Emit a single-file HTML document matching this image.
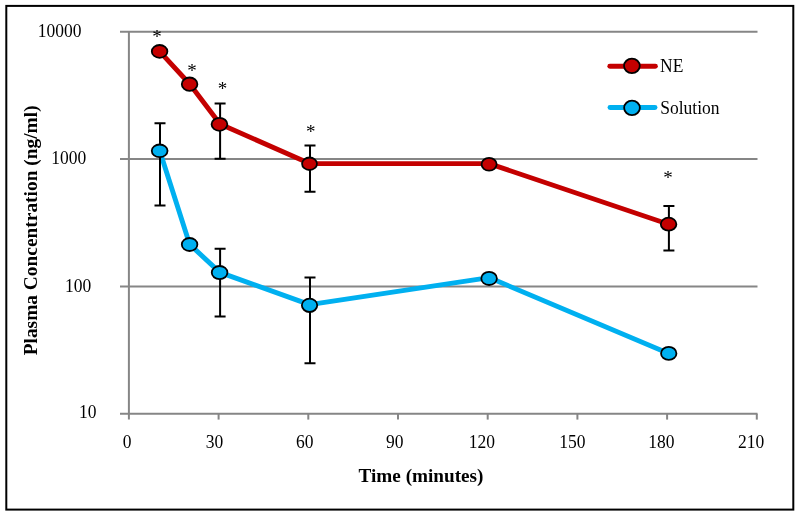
<!DOCTYPE html><html><head><meta charset="utf-8"><style>html,body{margin:0;padding:0;background:#fff;}svg{display:block;will-change:transform;}text{font-family:"Liberation Serif",serif;fill:#000;}</style></head><body>
<svg width="800" height="516" viewBox="0 0 800 516">
<rect x="0" y="0" width="800" height="516" fill="#fff"/>
<rect x="6.3" y="5.9" width="787.0" height="503.7" fill="none" stroke="#000" stroke-width="2"/>
<line x1="120" y1="31.8" x2="757.5" y2="31.8" stroke="#868686" stroke-width="2"/>
<line x1="120" y1="159.0" x2="757.5" y2="159.0" stroke="#868686" stroke-width="2"/>
<line x1="120" y1="286.4" x2="757.5" y2="286.4" stroke="#868686" stroke-width="2"/>
<line x1="120" y1="413.8" x2="757.5" y2="413.8" stroke="#868686" stroke-width="2"/>
<line x1="128.9" y1="31.8" x2="128.9" y2="419.6" stroke="#868686" stroke-width="2"/>
<line x1="218.6" y1="413.8" x2="218.6" y2="419.6" stroke="#868686" stroke-width="2"/>
<line x1="308.3" y1="413.8" x2="308.3" y2="419.6" stroke="#868686" stroke-width="2"/>
<line x1="398.0" y1="413.8" x2="398.0" y2="419.6" stroke="#868686" stroke-width="2"/>
<line x1="487.7" y1="413.8" x2="487.7" y2="419.6" stroke="#868686" stroke-width="2"/>
<line x1="577.4" y1="413.8" x2="577.4" y2="419.6" stroke="#868686" stroke-width="2"/>
<line x1="667.1" y1="413.8" x2="667.1" y2="419.6" stroke="#868686" stroke-width="2"/>
<line x1="756.8" y1="413.8" x2="756.8" y2="419.6" stroke="#868686" stroke-width="2"/>
<text transform="translate(81.4,36.9) scale(1,1.07)" font-size="17.5" text-anchor="end">10000</text>
<text transform="translate(86.3,163.9) scale(1,1.07)" font-size="17.5" text-anchor="end">1000</text>
<text transform="translate(91.3,291.9) scale(1,1.07)" font-size="17.5" text-anchor="end">100</text>
<text transform="translate(96.5,418.4) scale(1,1.07)" font-size="17.5" text-anchor="end">10</text>
<text transform="translate(127.2,447.8) scale(1,1.07)" font-size="17.5" text-anchor="middle">0</text>
<text transform="translate(214.4,447.8) scale(1,1.07)" font-size="17.5" text-anchor="middle">30</text>
<text transform="translate(304.7,447.8) scale(1,1.07)" font-size="17.5" text-anchor="middle">60</text>
<text transform="translate(394.7,447.8) scale(1,1.07)" font-size="17.5" text-anchor="middle">90</text>
<text transform="translate(481.9,447.8) scale(1,1.07)" font-size="17.5" text-anchor="middle">120</text>
<text transform="translate(572.4,447.8) scale(1,1.07)" font-size="17.5" text-anchor="middle">150</text>
<text transform="translate(661.3,447.8) scale(1,1.07)" font-size="17.5" text-anchor="middle">180</text>
<text transform="translate(751.1,447.8) scale(1,1.07)" font-size="17.5" text-anchor="middle">210</text>
<text x="421" y="482" font-size="19.2" font-weight="bold" text-anchor="middle">Time (minutes)</text>
<text transform="translate(37.2,230.35) rotate(-90)" font-size="19.4" font-weight="bold" text-anchor="middle">Plasma Concentration (ng/ml)</text>
<polyline points="159.6,51.4 189.7,84.0 220.0,124.0 309.6,163.6 489.1,163.6 668.6,224.2" fill="none" stroke="#C40000" stroke-width="4.9" stroke-linejoin="round" stroke-linecap="round"/>
<polyline points="159.7,150.8 189.7,244.4 219.8,272.4 309.6,304.6 489.1,277.6 668.75,353.4" fill="none" stroke="#00B0F0" stroke-width="4.9" stroke-linejoin="round" stroke-linecap="round"/>
<path d="M214.60,103.5H225.60M220.1,103.5V158.7M214.60,158.7H225.60" stroke="#000" stroke-width="2" fill="none"/>
<path d="M304.50,145.6H315.50M310.0,145.6V191.7M304.50,191.7H315.50" stroke="#000" stroke-width="2" fill="none"/>
<path d="M663.40,205.9H674.40M668.9,205.9V250.5M663.40,250.5H674.40" stroke="#000" stroke-width="2" fill="none"/>
<path d="M154.50,123.2H165.50M160.0,123.2V205.6M154.50,205.6H165.50" stroke="#000" stroke-width="2" fill="none"/>
<path d="M214.60,248.8H225.60M220.1,248.8V316.4M214.60,316.4H225.60" stroke="#000" stroke-width="2" fill="none"/>
<path d="M304.50,277.5H315.50M310.0,277.5V363.2M304.50,363.2H315.50" stroke="#000" stroke-width="2" fill="none"/>
<ellipse cx="159.6" cy="51.4" rx="7.8" ry="6.4" fill="#C40000" stroke="#000" stroke-width="1.8"/>
<ellipse cx="189.6" cy="84.2" rx="7.8" ry="6.7" fill="#C40000" stroke="#000" stroke-width="1.8"/>
<ellipse cx="219.45" cy="124.35" rx="7.9" ry="6.45" fill="#C40000" stroke="#000" stroke-width="1.8"/>
<ellipse cx="309.5" cy="163.75" rx="7.45" ry="6.25" fill="#C40000" stroke="#000" stroke-width="1.8"/>
<ellipse cx="489.1" cy="164.3" rx="7.55" ry="6.4" fill="#C40000" stroke="#000" stroke-width="1.8"/>
<ellipse cx="668.6" cy="224.2" rx="7.8" ry="6.5" fill="#C40000" stroke="#000" stroke-width="1.8"/>
<ellipse cx="159.65" cy="150.85" rx="7.9" ry="6.35" fill="#00B0F0" stroke="#000" stroke-width="1.8"/>
<ellipse cx="189.6" cy="244.5" rx="7.8" ry="6.5" fill="#00B0F0" stroke="#000" stroke-width="1.8"/>
<ellipse cx="219.6" cy="272.6" rx="7.85" ry="6.6" fill="#00B0F0" stroke="#000" stroke-width="1.8"/>
<ellipse cx="309.55" cy="305.3" rx="7.7" ry="6.7" fill="#00B0F0" stroke="#000" stroke-width="1.8"/>
<ellipse cx="489.1" cy="278.4" rx="7.8" ry="6.6" fill="#00B0F0" stroke="#000" stroke-width="1.8"/>
<ellipse cx="668.75" cy="353.4" rx="7.7" ry="6.5" fill="#00B0F0" stroke="#000" stroke-width="1.8"/>
<text x="156.9" y="42.95" font-size="19" text-anchor="middle">*</text>
<text x="192.0" y="77.35" font-size="19" text-anchor="middle">*</text>
<text x="222.4" y="95.35" font-size="19" text-anchor="middle">*</text>
<text x="310.85" y="137.50" font-size="19" text-anchor="middle">*</text>
<text x="668.0" y="184.40" font-size="19" text-anchor="middle">*</text>
<line x1="609.8" y1="66.3" x2="655.4" y2="66.3" stroke="#C40000" stroke-width="4.9" stroke-linecap="round"/>
<ellipse cx="631.9" cy="65.9" rx="7.85" ry="7.25" fill="#C40000" stroke="#000" stroke-width="1.8"/>
<text transform="translate(660.0,72.3) scale(1,1.07)" font-size="17.5">NE</text>
<line x1="610" y1="107.5" x2="655" y2="107.5" stroke="#00B0F0" stroke-width="4.9" stroke-linecap="round"/>
<ellipse cx="632" cy="107.9" rx="7.85" ry="7.25" fill="#00B0F0" stroke="#000" stroke-width="1.8"/>
<text transform="translate(660.2,114.1) scale(1,1.07)" font-size="17.5">Solution</text>
</svg></body></html>
